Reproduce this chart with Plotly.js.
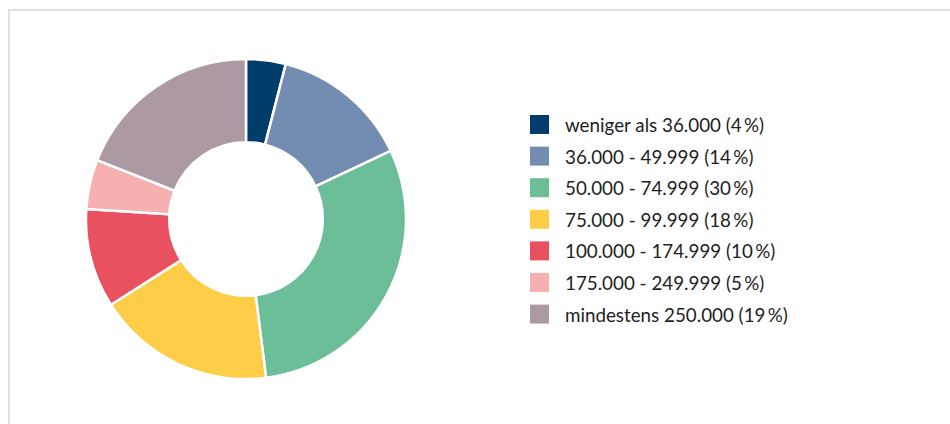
<!DOCTYPE html>
<html>
<head>
<meta charset="utf-8">
<script src="https://cdn.plot.ly/plotly-3.0.1.min.js"></script>
<style>
  html, body { margin: 0; padding: 0; overflow: hidden; background: #fff; }
  #frame {
    position: absolute; left: 8px; top: 9px;
    width: 1000px; height: 500px;
    border: 2px solid #e0e0e0;
  }
  #plot { position: absolute; left: 0; top: 0; width: 950px; height: 424px; }
</style>
</head>
<body>
<div id="frame"></div>
<div id="plot"></div>
<script>
// income brackets (EUR) and their shares in percent
const brackets = [
  "weniger als 36.000",
  "36.000 - 49.999",
  "50.000 - 74.999",
  "75.000 - 99.999",
  "100.000 - 174.999",
  "175.000 - 249.999",
  "mindestens 250.000"
];
const shares = [4, 14, 30, 18, 10, 5, 19];
const colors = ["#003c6c", "#738cb2", "#6cbe99", "#fdcd47", "#e95160", "#f6b0af", "#ac99a4"];

const W = 950, H = 424;

const trace = {
  type: "pie",
  labels: brackets,
  values: shares,
  sort: false,
  direction: "clockwise",
  rotation: 0,
  hole: 0.48,
  textinfo: "none",
  hoverinfo: "label+percent",
  marker: { colors: colors, line: { color: "#ffffff", width: 2.5 } },
  domain: { x: [86 / W, 406 / W], y: [1 - 379 / H, 1 - 59 / H] },
  showlegend: false
};

// legend drawn as squares + labels, one row per bracket
const shapes = [];
const annotations = [];
const rowTop = 124.5, rowStep = 31.6;
brackets.forEach(function (name, i) {
  const yc = rowTop + i * rowStep;
  shapes.push({
    type: "rect", xref: "paper", yref: "paper",
    x0: 530 / W, x1: 549 / W,
    y0: 1 - (yc + 9.5) / H, y1: 1 - (yc - 9.5) / H,
    fillcolor: colors[i], line: { width: 0 }
  });
  annotations.push({
    xref: "paper", yref: "paper",
    x: 562.5 / W, y: 1 - yc / H,
    xanchor: "left", yanchor: "middle",
    showarrow: false,
    text: name + " (" + shares[i] + "\u2009%)",
    font: { family: "Lato, 'Open Sans', sans-serif", size: 18.8, color: "#1e1e1e" }
  });
});

const layout = {
  width: W,
  height: H,
  margin: { l: 0, r: 0, t: 0, b: 0 },
  paper_bgcolor: "rgba(0,0,0,0)",
  plot_bgcolor: "rgba(0,0,0,0)",
  shapes: shapes,
  annotations: annotations,
  font: { family: "Lato, sans-serif" }
};

Plotly.newPlot("plot", [trace], layout, { displayModeBar: false, staticPlot: true });
</script>
</body>
</html>
